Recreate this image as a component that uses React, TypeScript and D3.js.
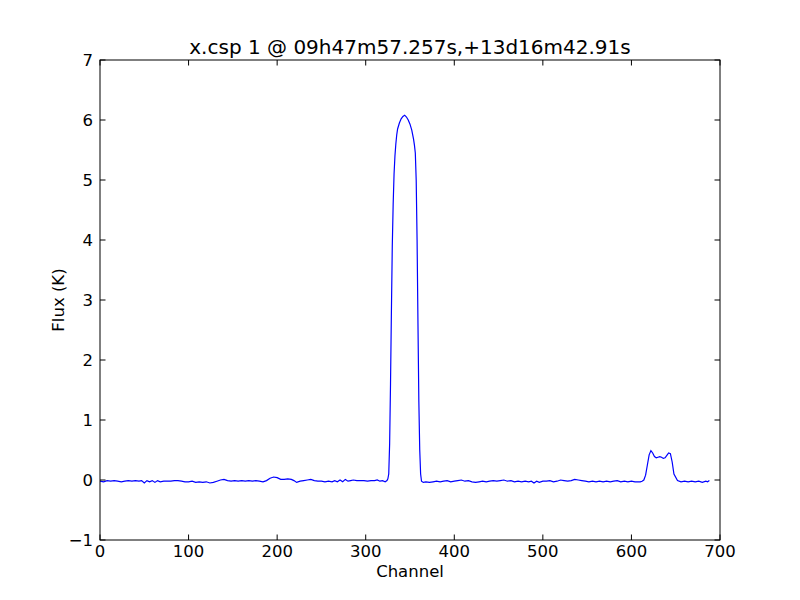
import React from "react";
import * as d3 from "d3";

// spectrum: channel number and flux in K
const channels = [
  0, 4, 8, 12, 16, 20, 24, 28, 32, 36, 40, 44, 47, 50, 53, 56, 59, 62, 65, 68, 72, 76, 80, 84, 88, 92, 96, 100,
  104, 108, 112, 116, 120, 124, 128, 132, 136, 140, 144, 148, 152, 156, 160, 164, 168, 172, 176, 180, 184, 188,
  192, 196, 200, 204, 208, 212, 216, 219, 222, 226, 230, 234, 238, 242, 246, 250, 254, 258, 262, 265, 268, 271,
  274, 277, 280, 283, 286, 290, 294, 298, 302, 306, 310, 313, 316, 319, 322, 324, 325, 326, 327, 328, 329, 330,
  331, 332, 333, 334, 335, 336, 338, 340, 342, 344, 346, 348, 350, 352, 354, 355, 356, 357, 358, 359, 360, 361,
  362, 363, 365, 368, 372, 376, 380, 384, 388, 392, 396, 400, 404, 408, 412, 416, 420, 424, 428, 432, 436, 440,
  444, 448, 452, 456, 460, 464, 468, 472, 476, 480, 484, 487, 490, 493, 496, 500, 504, 508, 512, 516, 520, 524,
  528, 532, 536, 540, 544, 548, 552, 556, 560, 564, 568, 572, 576, 580, 584, 588, 592, 596, 600, 604, 607, 610,
  612, 614, 616, 618, 620, 622, 624, 626, 628, 630, 632, 634, 636, 638, 640, 642, 644, 646, 648, 652, 656, 660,
  664, 668, 672, 676, 680, 684, 686, 688,
];
const flux = [
  -0.02, -0.03, -0.01, -0.02, -0.01, -0.02, -0.03, -0.02, -0.01, -0.02, -0.01, -0.02, -0.01, -0.05, -0.01, -0.03,
  -0.01, -0.04, -0.01, -0.03, -0.02, -0.02, -0.02, -0.01, -0.01, -0.02, -0.03, -0.03, -0.02, -0.04, -0.03, -0.04,
  -0.03, -0.05, -0.04, -0.02, 0.0, 0.01, -0.01, -0.02, -0.01, -0.02, -0.01, -0.02, -0.01, -0.02, -0.01, -0.02,
  -0.03, -0.01, 0.03, 0.05, 0.04, 0.01, 0.01, 0.02, 0.01, -0.01, -0.04, -0.02, -0.01, 0.0, 0.01, -0.01, -0.02,
  -0.02, -0.03, -0.02, -0.03, -0.01, -0.03, 0.0, -0.03, 0.01, -0.02, -0.01, 0.0, -0.01, -0.01, -0.01, -0.02,
  -0.01, -0.01, 0.0, -0.02, -0.01, -0.03, -0.01, 0.02, 0.1, 0.6, 1.6, 2.8, 3.9, 4.6, 5.1, 5.4, 5.6, 5.75, 5.85,
  5.95, 6.02, 6.06, 6.08, 6.05, 6.0, 5.93, 5.83, 5.68, 5.58, 5.45, 5.0, 4.0, 2.6, 1.3, 0.5, 0.1, -0.02, -0.04,
  -0.03, -0.04, -0.03, -0.02, -0.03, -0.02, -0.01, -0.03, -0.02, -0.01, 0.0, -0.02, -0.01, -0.03, -0.04, -0.03,
  -0.02, -0.03, -0.02, -0.01, -0.02, -0.01, 0.0, -0.02, -0.01, -0.03, -0.02, -0.03, -0.02, -0.03, -0.02, -0.05,
  -0.02, -0.04, -0.02, -0.02, -0.01, -0.03, -0.02, 0.0, -0.01, -0.02, -0.01, 0.01, 0.0, -0.01, -0.02, -0.03,
  -0.02, -0.03, -0.02, -0.03, -0.02, -0.03, -0.02, -0.01, -0.03, -0.02, -0.03, -0.02, -0.03, -0.03, -0.03,
  -0.02, 0.0, 0.08, 0.25, 0.42, 0.49, 0.45, 0.39, 0.37, 0.38, 0.39, 0.38, 0.36, 0.37, 0.41, 0.45, 0.44, 0.3, 0.1,
  -0.01, -0.03, -0.02, -0.03, -0.02, -0.03, -0.02, -0.04, -0.02, -0.03, -0.01, 0.0, -0.01,
];

const xTicks = [0, 100, 200, 300, 400, 500, 600, 700];
const yTicks = [-1, 0, 1, 2, 3, 4, 5, 6, 7];
const title = "x.csp 1 @ 09h47m57.257s,+13d16m42.91s";

const W = 800;
const H = 600;
const left = 100;
const right = 720;
const top = 60;
const bottom = 540;
const font = "DejaVu Sans, sans-serif";

export default function App() {
  const x = d3.scaleLinear().domain([0, 700]).range([left, right]);
  const y = d3.scaleLinear().domain([-1, 7]).range([bottom, top]);

  const pts: [number, number][] = channels.map((c, i) => [c, flux[i]]);
  const line = d3
    .line<[number, number]>()
    .x((d) => x(d[0]))
    .y((d) => y(d[1]));

  const tl = 5.5;
  const fmt = (v: number) => (v < 0 ? "\u2212" + Math.abs(v) : String(v));

  return (
    <svg width={W} height={H} style={{ position: "absolute", left: 0, top: 0, background: "#fff" }}>
      <rect x={0} y={0} width={W} height={H} fill="#fff" />
      <path d={line(pts) || ""} fill="none" stroke="#0000ff" strokeWidth={1.2} />

      {/* ticks on all four sides, pointing inward */}
      {xTicks.map((t) => (
        <g key={"x" + t}>
          <line x1={x(t)} x2={x(t)} y1={bottom} y2={bottom - tl} stroke="#000" />
          <line x1={x(t)} x2={x(t)} y1={top} y2={top + tl} stroke="#000" />
          <text x={x(t)} y={557} textAnchor="middle" fontFamily={font} fontSize={16.5}>
            {fmt(t)}
          </text>
        </g>
      ))}
      {yTicks.map((t) => (
        <g key={"y" + t}>
          <line x1={left} x2={left + tl} y1={y(t)} y2={y(t)} stroke="#000" />
          <line x1={right} x2={right - tl} y1={y(t)} y2={y(t)} stroke="#000" />
          <text x={93} y={y(t)} dy="0.36em" textAnchor="end" fontFamily={font} fontSize={16.5}>
            {fmt(t)}
          </text>
        </g>
      ))}

      <rect x={left} y={top} width={right - left} height={bottom - top} fill="none" stroke="#000" strokeWidth={1} />

      <text x={(left + right) / 2} y={54} textAnchor="middle" fontFamily={font} fontSize={20}>
        {title}
      </text>
      <text x={(left + right) / 2} y={577} textAnchor="middle" fontFamily={font} fontSize={16.5}>
        Channel
      </text>
      <text
        transform={`translate(64,${(top + bottom) / 2}) rotate(-90)`}
        textAnchor="middle"
        fontFamily={font}
        fontSize={16.5}
      >
        Flux (K)
      </text>
    </svg>
  );
}
